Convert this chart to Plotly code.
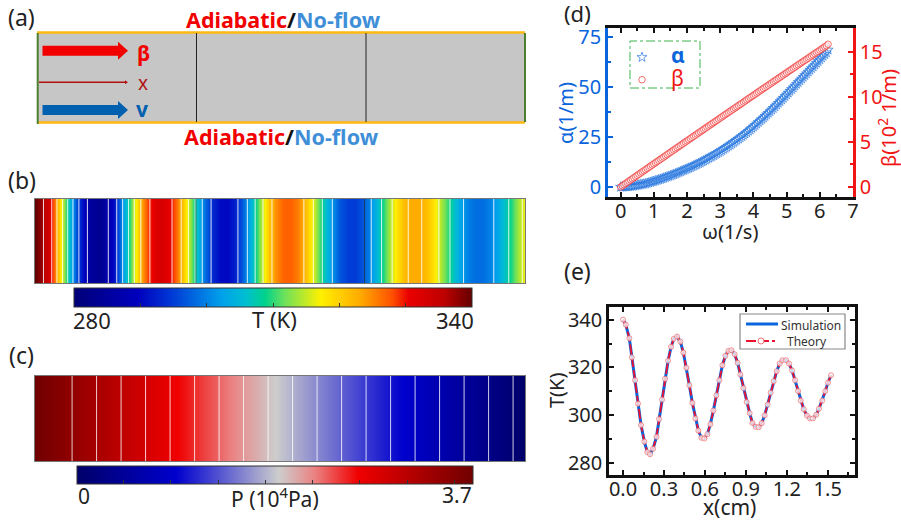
import plotly.graph_objects as go

W, H = 901, 521
FONT = "Noto Sans"

# ---- data ----
omega = [0.0,0.05,0.1,0.15,0.2,0.25,0.3,0.35,0.4,0.45,0.5,0.55,0.6,0.65,0.7,0.75,0.8,0.85,0.9,0.95,
         1.0,1.05,1.1,1.15,1.2,1.25,1.3,1.35,1.4,1.45,1.5,1.55,1.6,1.65,1.7,1.75,1.8,1.85,1.9,1.95,
         2.0,2.05,2.1,2.15,2.2,2.25,2.3,2.35,2.4,2.45,2.5,2.55,2.6,2.65,2.7,2.75,2.8,2.85,2.9,2.95,
         3.0,3.05,3.1,3.15,3.2,3.25,3.3,3.35,3.4,3.45,3.5,3.55,3.6,3.65,3.7,3.75,3.8,3.85,3.9,3.95,
         4.0,4.05,4.1,4.15,4.2,4.25,4.3,4.35,4.4,4.45,4.5,4.55,4.6,4.65,4.7,4.75,4.8,4.85,4.9,4.95,
         5.0,5.05,5.1,5.15,5.2,5.25,5.3,5.35,5.4,5.45,5.5,5.55,5.6,5.65,5.7,5.75,5.8,5.85,5.9,5.95,
         6.0,6.05,6.1,6.15,6.2,6.25]
alpha = [0,0.05,0.1,0.15,0.2,0.3,0.4,0.5,0.6,0.75,0.9,1.05,1.2,1.35,1.5,1.7,1.9,2.15,2.4,2.65,
         2.9,3.15,3.4,3.65,3.9,4.2,4.5,4.8,5.1,5.4,
         5.7,6.0,6.3,6.65,7.0,7.35,7.7,8.05,8.4,8.75,
         9.1,9.45,9.8,10.2,10.6,11.0,11.4,11.8,12.2,12.65,
         13.1,13.55,14.0,14.45,14.9,15.35,15.8,16.3,16.8,17.3,
         17.8,18.35,18.9,19.45,20.0,20.55,21.1,21.7,22.3,22.9,
         23.5,24.1,24.7,25.35,26.0,26.65,27.3,28.0,28.7,29.4,
         30.1,30.85,31.6,32.35,33.1,33.85,34.6,35.4,36.2,37.0,
         37.8,38.6,39.4,40.25,41.1,41.95,42.8,43.65,44.5,45.35,
         46.2,47.1,48.0,48.85,49.7,50.6,51.5,52.35,53.2,54.1,
         55.0,55.85,56.7,57.6,58.5,59.35,60.2,61.1,62.0,62.85,
         63.7,64.6,65.5,66.35,67.2,68.6]
beta = [0,0.13,0.26,0.39,0.52,0.65,0.78,0.905,1.03,1.16,1.29,1.42,1.55,1.675,1.8,1.93,2.06,2.185,2.31,2.44,
        2.57,2.695,2.82,2.95,3.08,3.205,3.33,3.46,3.59,3.715,
        3.84,3.97,4.1,4.225,4.35,4.475,4.6,4.73,4.86,4.985,
        5.11,5.235,5.36,5.49,5.62,5.745,5.87,5.995,6.12,6.25,
        6.38,6.505,6.63,6.755,6.88,7.005,7.13,7.255,7.38,7.51,
        7.64,7.765,7.89,8.015,8.14,8.265,8.39,8.515,8.64,8.765,
        8.89,9.015,9.14,9.27,9.4,9.525,9.65,9.775,9.9,10.025,
        10.15,10.275,10.4,10.525,10.65,10.775,10.9,11.025,11.15,11.275,
        11.4,11.525,11.65,11.775,11.9,12.025,12.15,12.275,12.4,12.525,
        12.65,12.775,12.9,13.025,13.15,13.275,13.4,13.525,13.65,13.775,
        13.9,14.02,14.14,14.265,14.39,14.515,14.64,14.765,14.89,15.015,
        15.14,15.265,15.39,15.51,15.63,15.8]
x_cm = [0,0.02,0.046,0.064,0.088,0.11,0.132,0.156,0.178,0.198,0.22,0.245,0.264,0.286,0.308,0.33,0.352,0.372,0.396,0.42,
        0.442,0.464,0.486,0.508,0.53,0.552,0.574,0.596,0.618,0.64,0.662,0.684,0.706,0.728,0.75,0.772,0.794,0.818,0.84,0.86,
        0.882,0.906,0.928,0.948,0.972,0.994,1.016,1.038,1.06,1.082,1.104,1.126,1.148,1.168,1.195,1.217,1.239,1.261,1.283,1.302,
        1.324,1.348,1.37,1.392,1.417,1.436,1.46,1.482,1.502,1.524]
temp = [340,337.9,332.2,324.2,314.6,304.8,295.8,288.9,284.5,283.6,285.9,290.9,298.3,306.5,315.2,322.8,328.6,332,332.9,330.8,
        326.2,319.8,312.5,305.1,298.6,293.5,290.5,290.2,292,296.2,301.9,308.3,314.6,320.9,324.8,326.9,327.2,325.5,321.9,317,
        311.3,305.5,300.8,296.7,295.1,294.9,296.6,299.9,304.4,309.4,314.2,318.4,321.6,323,323,321.6,318.7,314.6,310.1,306.1,
        302.5,299.8,298.6,298.6,300.2,302.7,306.1,310,313.6,316.7]
p_x = [0, 1.524]
p_val = [3.7, 0]
t_ticks = [290, 300, 310, 320, 330]
p_ticks = [0.43, 0.87, 1.32, 1.76, 2.2, 2.64, 3.09, 3.53]

rainbow = [[0,"rgb(0,0,120)"],[0.16,"rgb(0,0,190)"],[0.25,"rgb(0,60,215)"],[0.37,"rgb(0,160,235)"],
           [0.43,"rgb(0,190,210)"],[0.48,"rgb(0,210,140)"],[0.53,"rgb(110,225,90)"],[0.62,"rgb(255,240,0)"],
           [0.72,"rgb(255,170,0)"],[0.80,"rgb(255,80,0)"],[0.84,"rgb(235,0,0)"],[0.93,"rgb(190,0,0)"],[1,"rgb(100,0,0)"]]
wave = [[0,"rgb(0,0,105)"],[0.25,"rgb(0,0,205)"],[0.33,"rgb(60,60,210)"],[0.51,"rgb(205,205,205)"],
        [0.6,"rgb(235,130,130)"],[0.71,"rgb(240,0,0)"],[1,"rgb(112,0,0)"]]

BLUE = "#0a64dc"
RED = "#f01414"

def fx(p): return p / W
def fy(p): return 1 - p / H

fig = go.Figure()

# ---- (b) temperature strip ----
cb = dict(orientation="h", lenmode="pixels", thicknessmode="pixels", xanchor="left", yanchor="top",
          xpad=0, ypad=0, ticks="inside", ticklen=4, showticklabels=False, outlinecolor="#333", outlinewidth=1, tickcolor="#333")
fig.add_trace(go.Heatmap(x=x_cm, y=[0, 1], z=[temp, temp], zmin=280, zmax=340, zsmooth="best", colorscale=rainbow,
                         xaxis="x", yaxis="y", showlegend=False,
                         colorbar=dict(cb, len=398, thickness=19, x=fx(74), y=fy(288), tickvals=t_ticks)))
fig.add_trace(go.Contour(x=x_cm, y=[0, 1], z=[temp, temp], showscale=False, xaxis="x", yaxis="y", hoverinfo="skip",
                         showlegend=False, contours=dict(coloring="none", start=287.5, end=337, size=7),
                         line=dict(color="rgba(255,255,255,0.85)", width=1)))

# ---- (c) pressure strip ----
fig.add_trace(go.Heatmap(x=p_x, y=[0, 1], z=[p_val, p_val], zmin=0, zmax=3.7, zsmooth="best", colorscale=wave,
                         xaxis="x2", yaxis="y2", showlegend=False,
                         colorbar=dict(cb, len=396, thickness=18, x=fx(77), y=fy(466), tickvals=p_ticks)))
fig.add_trace(go.Contour(x=p_x, y=[0, 1], z=[p_val, p_val], showscale=False, xaxis="x2", yaxis="y2", hoverinfo="skip",
                         showlegend=False, contours=dict(coloring="none", start=0.09, end=3.6, size=0.185),
                         line=dict(color="rgba(255,255,255,0.8)", width=1)))

# ---- (d) ----
fig.add_trace(go.Scatter(x=omega, y=alpha, mode="markers", name='<span style="color:#0a64dc;font-size:21px"><b>α</b></span>',
                         xaxis="x3", yaxis="y3", legend="legend",
                         marker=dict(symbol="star-open", size=7.5, color="#2a78e0", line=dict(width=0.7, color="#2a78e0"))))
fig.add_trace(go.Scatter(x=omega, y=beta, mode="markers", name='<span style="color:#f01414;font-size:21px">β</span>',
                         xaxis="x3", yaxis="y4", legend="legend",
                         marker=dict(symbol="circle", size=6.5, color="rgba(255,255,255,0.5)", line=dict(width=0.7, color="#f03030"))))

# ---- (e) ----
fig.add_trace(go.Scatter(x=x_cm, y=temp, mode="lines", name="Simulation", xaxis="x4", yaxis="y5", showlegend=False,
                         line=dict(color="#0a64dc", width=3)))
fig.add_trace(go.Scatter(x=x_cm, y=temp, mode="lines+markers", name=" Theory", xaxis="x4", yaxis="y5", showlegend=False,
                         line=dict(color="#ee1030", width=1.8, dash="10px,3px"),
                         marker=dict(symbol="circle", size=5, color="rgba(255,255,255,0.75)", line=dict(width=0.7, color="#f06060"))))

strip = dict(showticklabels=False, ticks="", showgrid=False, zeroline=False, showline=True, mirror=True,
             linecolor="#777", linewidth=1)
t_font = dict(family=FONT, size=20, color="#222")
frame = dict(showgrid=False, zeroline=False, showline=True, ticks="inside", ticklen=5, tickwidth=1.5)

fig.update_layout(
    width=W, height=H, margin=dict(l=0, r=0, t=0, b=0, autoexpand=False), paper_bgcolor="white", plot_bgcolor="white",
    font=dict(family=FONT, color="#222"),
    xaxis=dict(strip, domain=[fx(35), fx(525)], range=[0, 1.524], anchor="y"),
    yaxis=dict(strip, domain=[fy(283), fy(199)], range=[0, 1], anchor="x"),
    xaxis2=dict(strip, domain=[fx(35), fx(525)], range=[0, 1.524], anchor="y2"),
    yaxis2=dict(strip, domain=[fy(461), fy(376)], range=[0, 1], anchor="x2"),
    xaxis3=dict(frame, domain=[fx(608), fx(853)], range=[-0.38, 7.0], anchor="y3", mirror="ticks",
                linecolor="#111", linewidth=2.5, tickcolor="#111", dtick=1, tick0=0, tickfont=t_font, ticklabelstandoff=-6,
                minor=dict(dtick=0.5, ticks="inside", ticklen=3, tickcolor="#111")),
    yaxis3=dict(frame, domain=[fy(197), fy(28)], range=[-5, 79.5], anchor="x3", linecolor=BLUE, linewidth=2.5,
                tickcolor=BLUE, tickvals=[0, 25, 50, 75], tickfont=dict(family=FONT, size=20, color=BLUE),
                minor=dict(tickvals=[12.5, 37.5, 62.5], ticks="inside", ticklen=3, tickcolor=BLUE)),
    yaxis4=dict(frame, range=[-1.1, 17.6], anchor="x3", overlaying="y3", side="right", linecolor=RED, linewidth=2.5,
                tickcolor=RED, tickvals=[0, 5, 10, 15], tickfont=dict(family=FONT, size=20, color=RED),
                minor=dict(tickvals=[2.5, 7.5, 12.5], ticks="inside", ticklen=3, tickcolor=RED)),
    xaxis4=dict(frame, domain=[fx(609), fx(855)], range=[-0.103, 1.70], anchor="y5", mirror="ticks",
                linecolor="#111", linewidth=2.5, tickcolor="#111", tick0=0, dtick=0.3, tickformat=".1f", tickfont=t_font,
                ticklabelstandoff=-6, minor=dict(dtick=0.15, ticks="inside", ticklen=3, tickcolor="#111")),
    yaxis5=dict(frame, domain=[fy(475), fy(307)], range=[274.9, 345.3], anchor="x4", mirror="ticks",
                linecolor="#111", linewidth=2.5, tickcolor="#111", tick0=280, dtick=20, tickfont=t_font,
                minor=dict(dtick=10, ticks="inside", ticklen=3, tickcolor="#111")),
    legend=dict(x=fx(613), y=fy(41), xanchor="left", yanchor="top", bgcolor="rgba(0,0,0,0)", borderwidth=0,
                font=dict(family=FONT, size=15), itemwidth=48, tracegroupgap=0),
    showlegend=True,
)

# ---- shapes ----
def rect(x0, y0, x1, y1, **kw):
    fig.add_shape(type="rect", xref="paper", yref="paper", x0=fx(x0), x1=fx(x1), y0=fy(y1), y1=fy(y0), **kw)

def line(x0, y0, x1, y1, color, width, **kw):
    fig.add_shape(type="line", xref="paper", yref="paper", x0=fx(x0), x1=fx(x1), y0=fy(y0), y1=fy(y1),
                  line=dict(color=color, width=width, **kw))

def arrow(x0, x1, yc, shaft, head, hlen, color):
    pts = [(x0, yc - shaft/2), (x1 - hlen, yc - shaft/2), (x1 - hlen, yc - head/2), (x1, yc),
           (x1 - hlen, yc + head/2), (x1 - hlen, yc + shaft/2), (x0, yc + shaft/2)]
    path = "M " + " L ".join(f"{fx(a):.5f},{fy(b):.5f}" for a, b in pts) + " Z"
    fig.add_shape(type="path", xref="paper", yref="paper", path=path, fillcolor=color, line=dict(width=0))

rect(37.5, 32.5, 525, 122.5, fillcolor="#c6c6c6", line=dict(width=0), layer="below")
line(37, 32.5, 525, 32.5, "#ffb90f", 2.5)
line(37, 122.5, 525, 122.5, "#ffb90f", 2.5)
line(37.7, 33, 37.7, 124, "#4c7f2e", 2)
line(525, 33, 525, 122, "#4c7f2e", 2)
line(196.5, 33, 196.5, 122, "#222", 1)
line(366, 33, 366, 122, "#222", 1)
arrow(42.5, 128, 50.7, 10, 18, 10, "#f20000")
arrow(39, 128, 82.3, 1.6, 4, 3, "#b01010")
arrow(42.5, 128, 110, 10, 18, 10, "#0060b0")
line(196, 199, 196, 283, "rgba(60,60,60,0.5)", 1)
line(364.5, 199, 364.5, 283, "rgba(30,50,80,0.8)", 1)
rect(630, 41, 700, 88, line=dict(color="#3cb44a", width=1, dash="dashdot"))

# (e) legend box
rect(740, 314, 845, 349, fillcolor="white", line=dict(color="#888", width=1.2))
line(746, 324, 778, 324, "#0a64dc", 3)
line(746, 341, 775, 341, "#ee1030", 2, dash="10px,3px")
fig.add_shape(type="circle", xref="paper", yref="paper", x0=fx(758), x1=fx(764), y0=fy(344), y1=fy(338),
              fillcolor="white", line=dict(color="#f05050", width=0.8))

# ---- text ----
def text(x, y, s, size, color="#222", angle=0, **kw):
    fig.add_annotation(xref="paper", yref="paper", x=fx(x), y=fy(y), text=s, showarrow=False, xanchor="center",
                       yanchor="middle", textangle=angle, font=dict(family=FONT, size=size, color=color), **kw)

flow = '<b><span style="color:#f20000">Adiabatic</span><span style="color:#111">/</span><span style="color:#3f8fd8">No-flow</span></b>'
text(283, 19, flow, 21.5)
text(281, 137, flow, 21.5)
text(21, 17, "(a)", 23)
text(22, 180, "(b)", 23)
text(21, 355, "(c)", 23)
text(577, 13, "(d)", 22)
text(577, 271, "(e)", 23)
text(143, 53, "<b>β</b>", 21, "#f20000")
text(143, 83, "x", 19, "#b01010")
text(142, 109, "<b>v</b>", 21, "#0060b0")
text(92, 320, "280", 22)
text(274, 319, "T (K)", 22)
text(455, 320, "340", 22)
text(84, 496, "0", 21)
text(275, 497, "P (10<sup>4</sup>Pa)", 21)
text(457, 495, "3.7", 21)
text(565, 113, "α(1/m)", 20, BLUE, -90)
text(887, 118, "β(10<sup>2</sup> 1/m)", 20, RED, -90)
text(730, 231, "ω(1/s)", 20)
text(556, 390, "T(K)", 20, "#222", -90)
text(729, 507, "x(cm)", 21)
text(811, 325, "Simulation", 12, "#333")
text(807, 341, "Theory", 12, "#333")

fig.write_html("out.html", post_script="document.body.style.margin='0';", config={"displayModeBar": False})
